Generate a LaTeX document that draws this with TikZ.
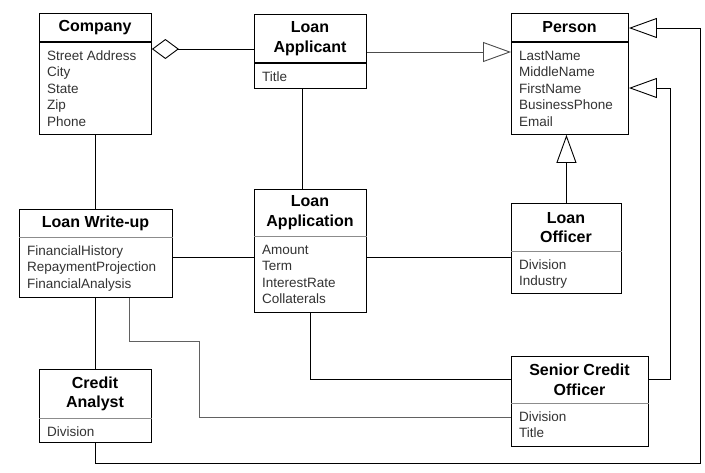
\documentclass[tikz,border=0pt]{standalone}
\usepackage{fontspec}
\setmainfont{Liberation Sans}
\usetikzlibrary{arrows.meta,calc}
\begin{document}
\begin{tikzpicture}[x=1pt,y={(0pt,-1pt)},
  box/.style={draw=black,line width=0.9pt,fill=white,anchor=north west,inner sep=0pt},
  ttl/.style={font=\fontsize{16}{19.5}\selectfont\bfseries,align=center,inner sep=0pt},
  attr/.style={font=\fontsize{13.5}{16.5}\selectfont,text=black!80,align=left,anchor=north west,inner sep=0pt},
  thickdiv/.style={line width=2pt},
  thindiv/.style={line width=0.7pt,draw=black!45},
  conn/.style={line width=0.9pt},
  gconn/.style={line width=0.9pt,draw=black!62},
  gen/.style={-{Triangle[open,length=28pt,width=20pt]}},
  agg/.style={{Diamond[open,length=27pt,width=20pt]}-},
]
\fill[white] (0,0) rectangle (705,472);
\useasboundingbox (0,0) rectangle (705,472);

% Company
\node[box,minimum width=112pt,minimum height=121pt] (company) at (39,13) {};
\node[ttl] (companyT) at (95,27.5) {Company};
\draw[thickdiv] (company.west |- 0,42) -- (company.east |- 0,42);
\node[attr] (companyA) at (47,48.5) {\strut Street Address\\City\\State\\Zip\\Phone};

% Loan Applicant
\node[box,minimum width=112pt,minimum height=74pt] (applicant) at (254,14) {};
\node[ttl] (applicantT) at (310,38.5) {Loan\\Applicant};
\draw[thickdiv] (applicant.west |- 0,63) -- (applicant.east |- 0,63);
\node[attr] (applicantA) at (262,69.5) {\strut Title};

% Person
\node[box,minimum width=117pt,minimum height=121pt] (person) at (511,13) {};
\node[ttl] (personT) at (569.5,27.5) {Person};
\draw[thickdiv] (person.west |- 0,42) -- (person.east |- 0,42);
\node[attr] (personA) at (519,48.5) {\strut LastName\\MiddleName\\FirstName\\BusinessPhone\\Email};

% Loan Write-up
\node[box,minimum width=153pt,minimum height=88pt] (writeup) at (19,209) {};
\node[ttl] (writeupT) at (95.5,223) {Loan Write-up};
\draw[thindiv] (writeup.west |- 0,237) -- (writeup.east |- 0,237);
\node[attr] (writeupA) at (27,243.5) {\strut FinancialHistory\\RepaymentProjection\\FinancialAnalysis};

% Loan Application
\node[box,minimum width=112pt,minimum height=123pt] (application) at (254,189) {};
\node[ttl] (applicationT) at (310,212.5) {Loan\\Application};
\draw[thindiv] (application.west |- 0,236) -- (application.east |- 0,236);
\node[attr] (applicationA) at (262,242.5) {\strut Amount\\Term\\InterestRate\\Collaterals};

% Loan Officer
\node[box,minimum width=110pt,minimum height=90pt] (officer) at (511,203) {};
\node[ttl] (officerT) at (566,227.5) {Loan\\Officer};
\draw[thindiv] (officer.west |- 0,251) -- (officer.east |- 0,251);
\node[attr] (officerA) at (519,257.5) {\strut Division\\Industry};

% Credit Analyst
\node[box,minimum width=112pt,minimum height=73pt] (analyst) at (39,369) {};
\node[ttl] (analystT) at (95,394) {Credit\\Analyst};
\draw[thindiv] (analyst.west |- 0,418) -- (analyst.east |- 0,418);
\node[attr] (analystA) at (47,424.5) {\strut Division};

% Senior Credit Officer
\node[box,minimum width=137pt,minimum height=90pt] (sco) at (511,356) {};
\node[ttl] (scoT) at (579.5,380) {Senior Credit\\Officer};
\draw[thindiv] (sco.west |- 0,403) -- (sco.east |- 0,403);
\node[attr] (scoA) at (519,409.5) {\strut Division\\Title};

% Connectors
\draw[conn,agg] ($(company.north east)+(0,36)$) -- ($(applicant.north west)+(0,35)$);
\draw[conn,draw=black!70,gen] ($(applicant.north east)+(0,38)$) -- ($(person.north west)+(0,39)$);
\draw[conn] ($(applicant.south)+(-8,0)$) -- ($(application.north)+(-8,0)$);
\draw[conn] (company.south) -- (company.south |- writeup.north);
\draw[conn] ($(writeup.north east)+(0,48)$) -- ($(application.north west)+(0,68)$);
\draw[conn] ($(application.north east)+(0,68)$) -- ($(officer.north west)+(0,54)$);
\draw[conn,gen] (officer.north) -- (officer.north |- person.south);
\draw[conn] (analyst.north |- writeup.south) -- (analyst.north);
\draw[gconn] ($(writeup.south west)+(110,0)$) -- ++(0,44) -- ++(70,0) |- ($(sco.north west)+(0,61)$);
\draw[conn] (application.south) |- ($(sco.north west)+(0,23)$);
\draw[conn,gen] ($(sco.north east)+(0,23)$) -- ++(22,0) |- ($(person.north east)+(0,75)$);
\draw[conn,gen] (analyst.south) -- ++(0,21) -- ++(605,0) |- ($(person.north east)+(0,15)$);
\end{tikzpicture}
\end{document}
